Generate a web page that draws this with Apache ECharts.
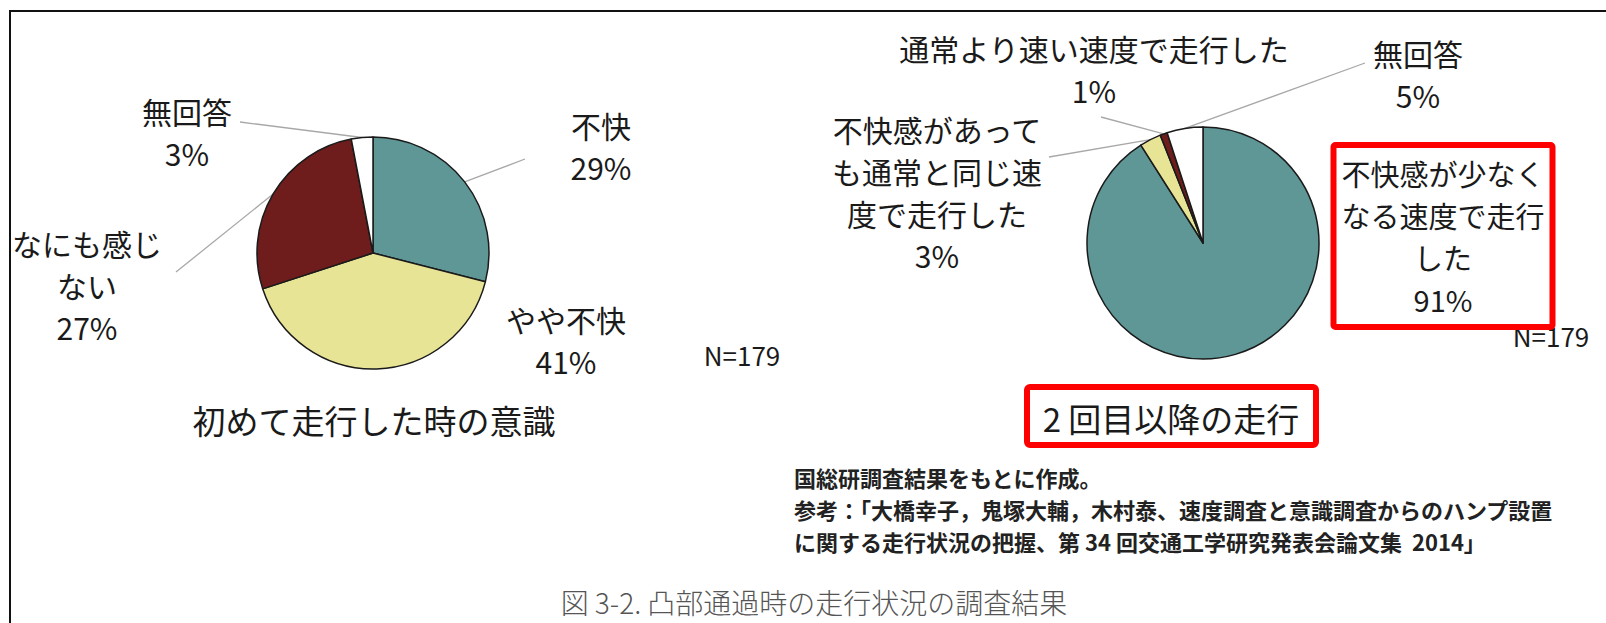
<!DOCTYPE html>
<html><head><meta charset="utf-8">
<script src="https://cdn.jsdelivr.net/npm/echarts@6/dist/echarts.min.js"></script>
<style>html,body{margin:0;padding:0;background:#fff}#c{width:1606px;height:623px}</style>
</head><body><div id="c"></div>
<script>
// ---- data ----
const leftCategories = ['不快', 'やや不快', 'なにも感じ\nない', '無回答'];
const leftValues = [29, 41, 27, 3];
const rightCategories = ['不快感が少なく\nなる速度で走行\nした', '不快感があって\nも通常と同じ速\n度で走行した', '通常より速い速度で走行した', '無回答'];
const rightValues = [91, 3, 1, 5];
const leftTitle = '初めて走行した時の意識';
const rightTitle = '2 回目以降の走行';
const sampleNote = 'N=179';
const noteLines = ['国総研調査結果をもとに作成。', '参考：「大橋幸子，鬼塚大輔，木村泰、速度調査と意識調査からのハンプ設置', 'に関する走行状況の把握、第 34 回交通工学研究発表会論文集  2014」'];
const caption = '図 3-2. 凸部通過時の走行状況の調査結果';

// ---- styles / layout ----
const sliceColors = ['#5f9696', '#e8e496', '#6e1c1c', '#ffffff'];
const FONT = '"Noto Sans CJK JP", "Noto Sans", sans-serif';
const leftLabelPos = [[601, 146], [566, 340], [87, 285], [187, 132]];
const leftLineEnd = [[-76, 13], null, [89, -13], [53, -10]];
const rightLabelPos = [[1443, 236], [937, 192], [1094, 69], [1418, 74]];
const rightLineEnd = [null, [112, -35], [7, 48], [-53, -11]];

function makeLayout(posArr, endArr) {
  return function (p) {
    const pos = posArr[p.dataIndex];
    const off = endArr[p.dataIndex];
    const r = { x: pos[0], y: pos[1], align: 'center', verticalAlign: 'middle' };
    if (off && p.labelLinePoints) {
      r.labelLinePoints = [p.labelLinePoints[0], [pos[0] + off[0], pos[1] + off[1]]];
    }
    return r;
  };
}

function makeData(names, values, endArr, special) {
  return names.map((n, i) => {
    const d = { name: n, value: values[i], itemStyle: { color: sliceColors[i] } };
    if (!endArr[i]) d.labelLine = { show: false };
    if (special && special[i]) d.label = special[i];
    return d;
  });
}

const baseSeries = {
  type: 'pie', radius: 116, startAngle: 90, clockwise: true,
  itemStyle: { borderColor: '#1a1a1a', borderWidth: 1.5 },
  label: { show: true, formatter: '{b}\n{c}%', fontSize: 30, lineHeight: 42, color: '#1a1a1a', fontFamily: FONT, align: 'center' },
  labelLine: { show: true, length: 10, length2: 10, smooth: false, lineStyle: { color: '#a8a8a8', width: 1.3 } },
  emphasis: { disabled: true },
  animation: false
};

const chart = echarts.init(document.getElementById('c'), null, { renderer: 'svg' });
chart.setOption({
  backgroundColor: '#ffffff',
  animation: false,
  series: [
    Object.assign({}, baseSeries, {
      center: [373, 253],
      data: makeData(leftCategories, leftValues, leftLineEnd),
      labelLayout: makeLayout(leftLabelPos, leftLineEnd)
    }),
    Object.assign({}, baseSeries, {
      center: [1203, 243],
      data: makeData(rightCategories, rightValues, rightLineEnd, [
        { borderColor: '#ff0000', borderWidth: 6, borderRadius: 2, padding: [10, 8, 4, 8], fontSize: 29 }
      ]),
      labelLayout: makeLayout(rightLabelPos, rightLineEnd)
    })
  ],
  graphic: [
    { type: 'polyline', shape: { points: [[10, 623], [10, 11], [1606, 11]] }, style: { stroke: '#111', lineWidth: 2, fill: null } },
    { type: 'text', x: 374, y: 420, style: { text: leftTitle, font: '33px ' + FONT, fill: '#1a1a1a', textAlign: 'center', textVerticalAlign: 'middle' } },
    { type: 'rect', shape: { x: 1027, y: 387, width: 289, height: 58, r: 3 }, style: { stroke: '#ff0000', lineWidth: 6, fill: '#fff' } },
    { type: 'text', x: 1171, y: 418, style: { text: rightTitle, font: '33px ' + FONT, fill: '#1a1a1a', textAlign: 'center', textVerticalAlign: 'middle' } },
    { type: 'text', x: 742, y: 354, style: { text: sampleNote, font: '26px ' + FONT, fill: '#1a1a1a', textAlign: 'center', textVerticalAlign: 'middle' } },
    { type: 'text', x: 1551, y: 335, style: { text: sampleNote, font: '26px ' + FONT, fill: '#1a1a1a', textAlign: 'center', textVerticalAlign: 'middle' } },
    { type: 'text', x: 794, y: 477, style: { text: noteLines[0], font: 'bold 22px ' + FONT, fill: '#222', textAlign: 'left', textVerticalAlign: 'middle' } },
    { type: 'text', x: 794, y: 509, style: { text: noteLines[1], font: 'bold 22px ' + FONT, fill: '#222', textAlign: 'left', textVerticalAlign: 'middle' } },
    { type: 'text', x: 794, y: 541, style: { text: noteLines[2], font: 'bold 22px ' + FONT, fill: '#222', textAlign: 'left', textVerticalAlign: 'middle' } },
    { type: 'text', x: 814, y: 602, style: { text: caption, font: '300 28px ' + FONT, fill: '#555', textAlign: 'center', textVerticalAlign: 'middle' } }
  ]
});
</script>
</body></html>
